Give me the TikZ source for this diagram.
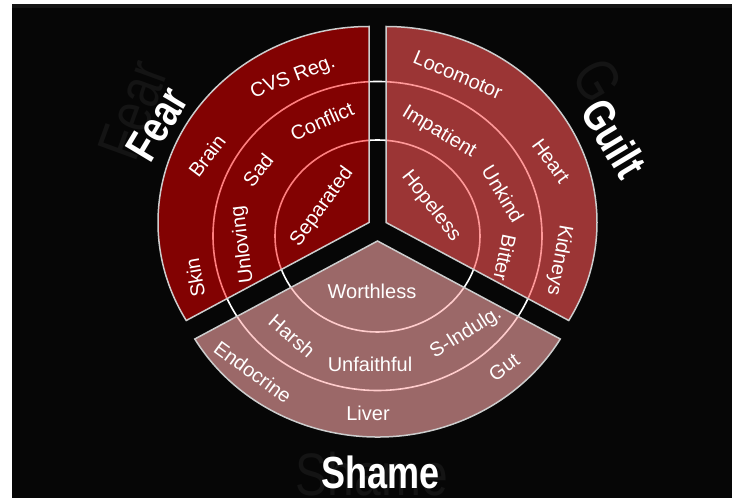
\documentclass[tikz,border=0pt]{standalone}
\usepackage{fontspec}
\setmainfont{Liberation Sans}
\newfontfamily\titlefont[FakeStretch=0.8]{Liberation Sans}

\definecolor{bgblack}{RGB}{6,6,6}
\definecolor{fearfill}{RGB}{255,0,0}
\definecolor{guiltfill}{RGB}{255,85,85}
\definecolor{shamefill}{RGB}{255,170,170}
\definecolor{ghostgray}{RGB}{20,20,20}
\definecolor{rimgray}{RGB}{205,205,205}

\tikzset{
	lab/.style={text=white, inner sep=0pt, font=\fontsize{20}{24}\selectfont},
	title/.style={text=white, inner sep=0pt, font=\titlefont\bfseries\fontsize{45}{50}\selectfont},
	ghost/.style={text=ghostgray, inner sep=0pt, font=\titlefont\fontsize{60}{66}\selectfont},
	ring/.style={draw=white, line width=1.6pt},
	sector/.style={draw=rimgray, line width=1.5pt}
}

\begin{document}
\begin{tikzpicture}[x=1pt,y=1pt]

	\useasboundingbox (0,0) rectangle (732,498);
	\fill[white] (0,0) rectangle (732,498);
	\fill[bgblack] (12,0) rectangle (732,494);
	\fill[black!92] (12,490) rectangle (732,494);

	\coordinate (F) at (369,275.5);
	\coordinate (G) at (386,275.5);
	\coordinate (S) at (377.5,257);
	\coordinate (R) at (377.5,262);

	\node[ghost, rotate=70] (fearghost) at (133,388) {Fear};
	\node[ghost, rotate=-60] (guiltghost) at (598,418) {G};
	\node[ghost] (shameghost) at (372,24) {Shame};

	\draw[ring] (R) ellipse [x radius=102.5pt, y radius=96pt];
	\draw[ring] (R) ellipse [x radius=164.5pt, y radius=154.5pt];

	\filldraw[sector, fill=fearfill, fill opacity=0.5] (F) -- ++(0,196) arc [start angle=90, end angle=210, x radius=211pt, y radius=196pt] -- cycle;
	\filldraw[sector, fill=guiltfill, fill opacity=0.6] (G) -- ++(0,196) arc [start angle=90, end angle=-30, x radius=211pt, y radius=196pt] -- cycle;
	\filldraw[sector, fill=shamefill, fill opacity=0.6] (S) -- ++(-182.7,-98) arc [start angle=210, end angle=330, x radius=211pt, y radius=196pt] -- cycle;

	\node[lab, rotate=21] (cvs) at (293,420.5) {CVS Reg.};
	\node[lab, rotate=53] (brain) at (207,342) {Brain};
	\node[lab, rotate=100] (skin) at (195,220) {Skin};
	\node[lab, rotate=24] (conflict) at (322,377) {Conflict};
	\node[lab, rotate=52] (sad) at (258,328) {Sad};
	\node[lab, rotate=97] (unloving) at (243,253) {Unloving};
	\node[lab, rotate=54] (separated) at (322,291) {Separated};

	\node[lab, rotate=-23] (locomotor) at (458,423) {Locomotor};
	\node[lab, rotate=-54] (heart) at (551,337) {Heart};
	\node[lab, rotate=-100] (kidneys) at (559,238) {Kidneys};
	\node[lab, rotate=-31] (impatient) at (439,366) {Impatient};
	\node[lab, rotate=-59] (unkind) at (503,304) {Unkind};
	\node[lab, rotate=-102] (bitter) at (505,240) {Bitter};
	\node[lab, rotate=-52] (hopeless) at (431,292) {Hopeless};

	\node[lab] (worthless) at (372,207) {Worthless};
	\node[lab, rotate=-41] (harsh) at (292,162) {Harsh};
	\node[lab] (unfaithful) at (370,134) {Unfaithful};
	\node[lab, rotate=32] (sindulg) at (466,165) {S-Indulg.};
	\node[lab, rotate=-36] (endocrine) at (253,126) {Endocrine};
	\node[lab, rotate=36] (gut) at (504,131) {Gut};
	\node[lab] (liver) at (368,85) {Liver};

	\node[title, rotate=59] (fear) at (157,374) {Fear};
	\node[title, rotate=-59] (guilt) at (614,360) {Guilt};
	\node[title] (shame) at (380.5,26) {Shame};
\end{tikzpicture}
\end{document}
